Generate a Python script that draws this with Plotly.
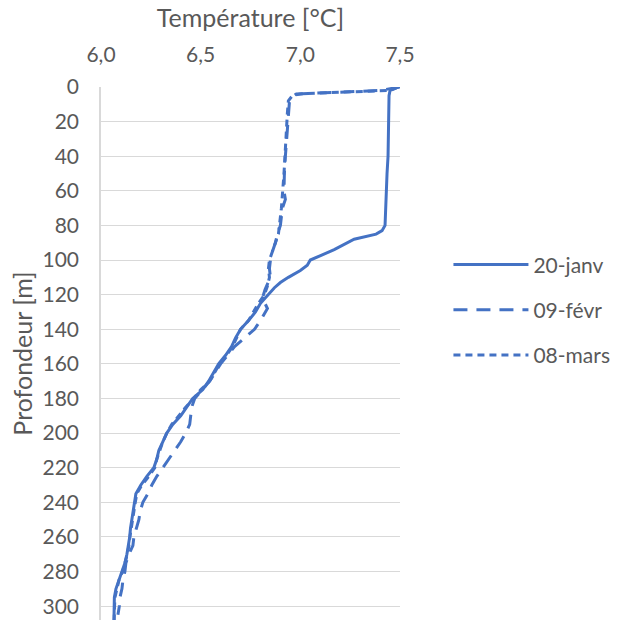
import plotly.graph_objects as go

# ---- data ----
depth_janv = [0, 1, 2, 5, 20, 40, 50, 60, 75, 80, 83, 85, 88, 91, 94, 97, 100, 103, 106,
              110, 113, 116, 120, 125, 130, 135, 140, 145, 150, 155, 160, 165, 170, 175,
              180, 185, 190, 195, 200, 205, 210, 215, 220, 225, 230, 235, 240, 245, 250,
              255, 260, 265, 270, 275, 280, 285, 290, 295, 300, 305, 308]
temp_janv = [7.49, 7.47, 7.45, 7.445, 7.443, 7.44, 7.435, 7.432, 7.43, 7.425, 7.41, 7.38,
             7.27, 7.22, 7.17, 7.11, 7.05, 7.035, 7.00, 6.94, 6.90, 6.87, 6.84, 6.80, 6.775,
             6.74, 6.70, 6.675, 6.655, 6.625, 6.59, 6.565, 6.54, 6.51, 6.46, 6.43, 6.40,
             6.36, 6.33, 6.31, 6.29, 6.28, 6.265, 6.23, 6.20, 6.175, 6.168, 6.16, 6.152,
             6.148, 6.144, 6.138, 6.13, 6.12, 6.105, 6.09, 6.075, 6.067, 6.065, 6.065, 6.065]

depth_fevr = [0, 2, 3, 3.5, 4, 6, 9, 20, 30, 40, 50, 60, 65, 70, 80, 85, 90, 95, 100, 105,
              110, 117, 122, 128, 135, 140, 145, 150, 160, 170, 180, 185, 190, 195, 200,
              205, 210, 215, 220, 225, 230, 235, 240, 245, 250, 255, 260, 265, 270, 275,
              280, 285, 290, 295, 300, 305]
temp_fevr = [7.50, 7.40, 7.20, 7.05, 6.98, 6.955, 6.945, 6.938, 6.93, 6.925, 6.92, 6.918,
             6.925, 6.91, 6.90, 6.885, 6.875, 6.86, 6.85, 6.845, 6.85, 6.823, 6.81, 6.835,
             6.80, 6.77, 6.72, 6.67, 6.60, 6.545, 6.47, 6.455, 6.45, 6.445, 6.425, 6.40,
             6.37, 6.34, 6.31, 6.28, 6.255, 6.235, 6.21, 6.197, 6.19, 6.178, 6.165, 6.16,
             6.14, 6.125, 6.12, 6.11, 6.105, 6.095, 6.092, 6.085]

depth_mars = [0, 2, 3, 4, 5, 8, 15, 30, 50, 70, 85, 95, 100, 105, 110, 115, 120, 125, 130,
              135, 140, 145, 150, 155, 160, 165, 170, 175, 180, 185, 190, 195, 200, 205,
              210, 215, 220, 225, 230, 235, 240, 245, 250, 255, 260, 265, 270, 275, 280,
              285, 290, 295, 300, 305, 308]
temp_mars = [7.49, 7.45, 7.20, 7.00, 6.96, 6.94, 6.935, 6.928, 6.918, 6.905, 6.89, 6.86,
             6.845, 6.84, 6.845, 6.835, 6.82, 6.79, 6.765, 6.74, 6.70, 6.68, 6.66, 6.63,
             6.595, 6.57, 6.545, 6.50, 6.465, 6.425, 6.39, 6.355, 6.33, 6.31, 6.295, 6.28,
             6.27, 6.24, 6.205, 6.18, 6.172, 6.165, 6.156, 6.15, 6.145, 6.14, 6.132, 6.12,
             6.108, 6.09, 6.08, 6.07, 6.068, 6.066, 6.066]

series_names = ["20-janv", "09-févr", "08-mars"]
x_ticks = [6.0, 6.5, 7.0, 7.5]
y_ticks = list(range(0, 301, 20))

# ---- styles ----
BLUE = "#4472C4"
TXT = "#595959"
GRID = "#D9D9D9"
FONT = "Lato"
TICK_SIZE = 21
TITLE_SIZE = 25

fig = go.Figure()
fig.add_trace(go.Scatter(x=temp_janv, y=depth_janv, mode="lines", name=series_names[0],
                         legendgroup="a", line=dict(color=BLUE, width=3)))
fig.add_trace(go.Scatter(x=temp_fevr, y=depth_fevr, mode="lines", name=series_names[1],
                         legendgroup="b", line=dict(color=BLUE, width=3, dash="14px,9px")))
fig.add_trace(go.Scatter(x=temp_mars, y=depth_mars, mode="lines", name=series_names[2],
                         legendgroup="c", line=dict(color=BLUE, width=3, dash="7px,5px")))

fig.update_layout(
    width=619, height=623,
    margin=dict(l=101, r=216, t=87, b=3),
    paper_bgcolor="white", plot_bgcolor="white",
    separators=", ",
    font=dict(family=FONT, size=TICK_SIZE, color=TXT),
    showlegend=True,
    legend=dict(x=1.162, xanchor="left", xref="paper", y=0.582, yanchor="middle",
                font=dict(size=TICK_SIZE, color=TXT), tracegroupgap=15, itemwidth=75,
                bgcolor="rgba(0,0,0,0)"),
    xaxis=dict(side="top", range=[6.0, 7.5], tickvals=x_ticks, tickformat=".1f",
               showgrid=False, zeroline=False, showline=False, ticks="",
               ticklabelstandoff=20,
               title=dict(text="Température [°C]", standoff=6,
                          font=dict(size=TITLE_SIZE, color=TXT))),
    yaxis=dict(range=[308, 0], tickvals=y_ticks, showgrid=True, gridcolor=GRID,
               gridwidth=1.3, zeroline=False, showline=True, linecolor=GRID, linewidth=1.5,
               ticks="", ticklabelstandoff=16,
               title=dict(text="Profondeur [m]", standoff=3,
                          font=dict(size=TITLE_SIZE, color=TXT))),
)

fig.write_html("out.html")
